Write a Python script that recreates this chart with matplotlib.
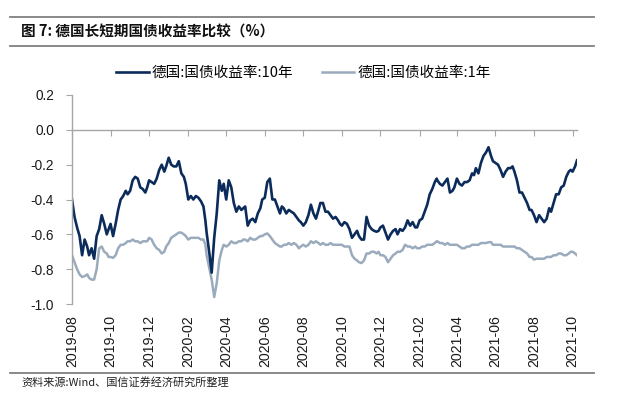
import matplotlib
matplotlib.use("Agg")
import matplotlib.pyplot as plt
import matplotlib.dates as mdates
from matplotlib.lines import Line2D
import pandas as pd

# ---------------- data ----------------
months = pd.period_range("2019-08", "2021-09", freq="M")
month_days = [1, 5, 9, 13, 17, 21, 25, 28]
tail_dates = ["2021-10-01", "2021-10-05", "2021-10-08"]

yield_10y = [
    -0.40, -0.50, -0.56, -0.61, -0.72, -0.63, -0.67, -0.72,   # 2019-08
    -0.68, -0.74, -0.61, -0.57, -0.49, -0.54, -0.60, -0.57,   # 2019-09
    -0.54, -0.61, -0.54, -0.46, -0.40, -0.38, -0.35, -0.37,   # 2019-10
    -0.35, -0.29, -0.27, -0.28, -0.33, -0.34, -0.36, -0.33,   # 2019-11
    -0.29, -0.30, -0.31, -0.28, -0.23, -0.20, -0.24, -0.21,   # 2019-12
    -0.16, -0.20, -0.21, -0.21, -0.18, -0.25, -0.27, -0.31,   # 2020-01
    -0.40, -0.38, -0.40, -0.38, -0.39, -0.41, -0.44, -0.52,   # 2020-02
    -0.59, -0.70, -0.82, -0.62, -0.48, -0.29, -0.35, -0.31,   # 2020-03
    -0.40, -0.29, -0.33, -0.42, -0.47, -0.44, -0.46, -0.45,   # 2020-04
    -0.44, -0.55, -0.52, -0.51, -0.53, -0.48, -0.45, -0.40,   # 2020-05
    -0.39, -0.30, -0.28, -0.40, -0.40, -0.44, -0.48, -0.44,   # 2020-06
    -0.45, -0.48, -0.46, -0.47, -0.48, -0.50, -0.52, -0.53,   # 2020-07
    -0.55, -0.53, -0.49, -0.43, -0.48, -0.51, -0.46, -0.42,   # 2020-08
    -0.42, -0.47, -0.47, -0.49, -0.51, -0.50, -0.52, -0.54,   # 2020-09
    -0.55, -0.53, -0.54, -0.57, -0.62, -0.60, -0.58, -0.61,   # 2020-10
    -0.63, -0.63, -0.50, -0.55, -0.57, -0.58, -0.585, -0.58,  # 2020-11
    -0.56, -0.55, -0.59, -0.63, -0.60, -0.58, -0.57, -0.60,   # 2020-12
    -0.57, -0.58, -0.56, -0.52, -0.55, -0.53, -0.56, -0.56,   # 2021-01
    -0.52, -0.51, -0.47, -0.43, -0.37, -0.34, -0.30, -0.28,   # 2021-02
    -0.29, -0.31, -0.32, -0.30, -0.28, -0.36, -0.35, -0.33,   # 2021-03
    -0.28, -0.31, -0.32, -0.30, -0.30, -0.29, -0.25, -0.26,   # 2021-04
    -0.22, -0.25, -0.19, -0.15, -0.13, -0.10, -0.15, -0.18,   # 2021-05
    -0.19, -0.20, -0.23, -0.27, -0.24, -0.22, -0.22, -0.21,   # 2021-06
    -0.24, -0.29, -0.36, -0.36, -0.39, -0.42, -0.46, -0.46,   # 2021-07
    -0.49, -0.53, -0.49, -0.51, -0.53, -0.51, -0.45, -0.47,   # 2021-08
    -0.42, -0.37, -0.37, -0.33, -0.32, -0.27, -0.24, -0.23,   # 2021-09
    -0.24, -0.21, -0.175,                                      # 2021-10
]

yield_1y = [
    -0.72, -0.76, -0.80, -0.83, -0.845, -0.84, -0.83, -0.85,  # 2019-08
    -0.86, -0.86, -0.80, -0.68, -0.67, -0.70, -0.71, -0.73,   # 2019-09
    -0.73, -0.735, -0.72, -0.68, -0.66, -0.66, -0.65, -0.64,  # 2019-10
    -0.64, -0.63, -0.64, -0.64, -0.65, -0.64, -0.64, -0.64,   # 2019-11
    -0.62, -0.63, -0.66, -0.68, -0.69, -0.71, -0.70, -0.67,   # 2019-12
    -0.65, -0.62, -0.61, -0.60, -0.59, -0.59, -0.60, -0.61,   # 2020-01
    -0.63, -0.62, -0.62, -0.62, -0.62, -0.63, -0.63, -0.66,   # 2020-02
    -0.72, -0.79, -0.86, -0.96, -0.88, -0.75, -0.69, -0.66,   # 2020-03
    -0.67, -0.66, -0.64, -0.65, -0.65, -0.64, -0.64, -0.63,   # 2020-04
    -0.63, -0.64, -0.62, -0.63, -0.63, -0.62, -0.61, -0.61,   # 2020-05
    -0.60, -0.595, -0.61, -0.63, -0.65, -0.66, -0.67, -0.67,  # 2020-06
    -0.66, -0.66, -0.65, -0.66, -0.65, -0.66, -0.68, -0.67,   # 2020-07
    -0.66, -0.67, -0.66, -0.64, -0.65, -0.64, -0.65, -0.66,   # 2020-08
    -0.65, -0.66, -0.66, -0.65, -0.66, -0.66, -0.66, -0.66,   # 2020-09
    -0.66, -0.67, -0.67, -0.67, -0.72, -0.74, -0.75, -0.76,   # 2020-10
    -0.765, -0.75, -0.71, -0.71, -0.70, -0.70, -0.71, -0.70,  # 2020-11
    -0.72, -0.72, -0.73, -0.76, -0.74, -0.72, -0.71, -0.70,   # 2020-12
    -0.70, -0.69, -0.66, -0.67, -0.67, -0.68, -0.67, -0.68,   # 2021-01
    -0.68, -0.67, -0.67, -0.66, -0.66, -0.66, -0.65, -0.64,   # 2021-02
    -0.64, -0.65, -0.65, -0.66, -0.65, -0.66, -0.66, -0.66,   # 2021-03
    -0.66, -0.67, -0.68, -0.68, -0.67, -0.67, -0.66, -0.66,   # 2021-04
    -0.66, -0.66, -0.65, -0.65, -0.65, -0.645, -0.645, -0.66, # 2021-05
    -0.66, -0.66, -0.66, -0.67, -0.67, -0.67, -0.67, -0.67,   # 2021-06
    -0.67, -0.68, -0.68, -0.69, -0.70, -0.71, -0.73, -0.73,   # 2021-07
    -0.745, -0.74, -0.74, -0.74, -0.74, -0.73, -0.73, -0.73,  # 2021-08
    -0.72, -0.72, -0.71, -0.71, -0.72, -0.72, -0.71, -0.70,   # 2021-09
    -0.70, -0.71, -0.72,                                       # 2021-10
]

dates = [pd.Timestamp(year=m.year, month=m.month, day=d) for m in months for d in month_days]
dates += [pd.Timestamp(s) for s in tail_dates]

label_10y = "德国:国债收益率:10年"
label_1y = "德国:国债收益率:1年"
title = "图 7: 德国长短期国债收益率比较（%）"
source = "资料来源:Wind、国信证券经济研究所整理"
y_ticks = [-1.0, -0.8, -0.6, -0.4, -0.2, 0.0, 0.2]

# ---------------- style ----------------
CJK = ["Noto Sans CJK SC", "DejaVu Sans"]
NUM = ["Liberation Sans", "DejaVu Sans"]
c10 = "#0b2b5b"
c1 = "#9aabbd"
axis_grey = "#a6a6a6"
rule_grey = "#808080"

W, H = 617, 396
fig = plt.figure(figsize=(W / 100, H / 100), dpi=100)

ax = fig.add_axes([72 / W, 1 - 304 / H, 505 / W, (304 - 95) / H])

l1, = ax.plot(dates, yield_1y, color=c1, lw=1.8, solid_joinstyle="round")
l10, = ax.plot(dates, yield_10y, color=c10, lw=1.9, solid_joinstyle="round")

ax.set_ylim(-1.0, 0.2)
ax.set_xlim(pd.Timestamp("2019-08-01"), pd.Timestamp("2021-10-08"))
ax.set_yticks(y_ticks)
ax.set_yticklabels([f"{v:.1f}" for v in y_ticks], fontfamily=NUM, fontsize=9.8, color="#1a1a1a")

for s in ["top", "right"]:
    ax.spines[s].set_visible(False)
ax.spines["left"].set_color(axis_grey)
ax.spines["left"].set_linewidth(1.0)
ax.spines["bottom"].set_position(("data", 0))
ax.spines["bottom"].set_color(axis_grey)
ax.spines["bottom"].set_linewidth(1.0)

loc = mdates.MonthLocator(bymonth=[2, 4, 6, 8, 10, 12], bymonthday=1)
ax.xaxis.set_major_locator(loc)
ax.tick_params(axis="x", direction="out", length=4, color=axis_grey, labelbottom=False)
ax.tick_params(axis="y", direction="out", length=4, color=axis_grey, pad=9)

sec = ax.secondary_xaxis(0.0)
sec.xaxis.set_major_locator(mdates.MonthLocator(bymonth=[2, 4, 6, 8, 10, 12], bymonthday=1))
sec.xaxis.set_major_formatter(mdates.DateFormatter("%Y-%m"))
sec.tick_params(length=0, pad=8, labelrotation=90, labelsize=10.2, labelcolor="#1a1a1a")
for lab in sec.get_xticklabels():
    lab.set_fontfamily(NUM)
sec.spines["bottom"].set_visible(False)

# legend
fig.legend([l10, l1], [label_10y, label_1y], loc="center",
           bbox_to_anchor=(303.5 / W, 1 - 73 / H), ncol=2, frameon=False,
           handlelength=2.2, handletextpad=0.2, columnspacing=2.0,
           prop={"family": CJK, "size": 10.5})

# header / footer rules and texts
for yy in (17, 46, 373):
    fig.add_artist(Line2D([10 / W, 594 / W], [1 - yy / H] * 2, color=rule_grey, lw=1.3))
fig.text(21 / W, 1 - 32 / H, title, fontsize=10.5, fontweight="bold", va="center",
         family=CJK, color="#111111")
fig.text(21 / W, 1 - 382 / H, source, fontsize=8, va="center", family=CJK, color="#222222")

fig.savefig("out.png", dpi=100)
